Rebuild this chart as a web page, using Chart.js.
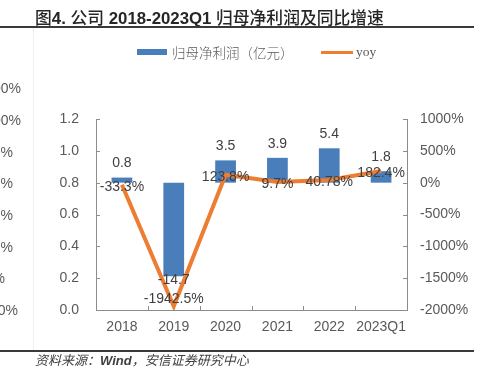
<!DOCTYPE html>
<html><head><meta charset="utf-8">
<script src="https://cdn.jsdelivr.net/npm/chart.js@4"></script>
<style>
html,body{margin:0;padding:0;background:#fff;}
#wrap{position:relative;width:486px;height:372px;overflow:hidden;background:#fff;}
#c{position:absolute;left:0;top:0;}
.t{position:absolute;white-space:nowrap;}
.edge{position:absolute;white-space:nowrap;font:14px "Liberation Sans",Arial,sans-serif;color:#595959;line-height:16px;text-align:right;}
.cj{font-weight:500;font-family:'Noto Sans CJK SC',sans-serif;}
</style></head><body>
<div id="wrap">
<canvas id="c" width="486" height="372"></canvas>
<div style="position:absolute;left:33px;top:28px;width:1px;height:323px;background:#efefef;"></div>
<div class="t" id="title" style="left:35px;top:7px;font:bold 16.8px 'Liberation Sans','Noto Sans CJK SC',sans-serif;color:#262626;line-height:20px;"><span class="cj">图</span>4. <span class="cj">公司</span> 2018-2023Q1 <span class="cj">归母净利润及同比增速</span></div>
<div style="position:absolute;left:0;top:26px;width:474px;height:2px;background:#3a3a3a;"></div>
<div id="legend"></div>
<div id="edges"></div>
<div style="position:absolute;left:0;top:350px;width:474px;height:1.5px;background:#3a3a3a;"></div>
<div class="t" style="left:35px;top:353px;font:italic 13px 'Liberation Sans','Noto Sans CJK SC',sans-serif;color:#404040;line-height:16px;">资料来源：<b>Wind</b>，安信证券研究中心</div>
</div>
<script>
// ---- data ----
const categories = ['2018', '2019', '2020', '2021', '2022', '2023Q1'];
const netProfit  = [0.8, -14.7, 3.5, 3.9, 5.4, 1.8];          // 归母净利润（亿元）
const yoyGrowth  = [-33.3, -1942.5, 123.8, 9.7, 40.78, 182.4]; // yoy, %
const leftTicks  = [0, 0.2, 0.4, 0.6, 0.8, 1.0, 1.2];
const rightTicks = [-2000, -1500, -1000, -500, 0, 500, 1000];
const edgeLabels = ['1500%', '1000%', '500%', '0%', '-500%', '-1000%', '-1500%', '-2000%']; // cropped axis at the left edge
const seriesNames = ['归母净利润（亿元）', 'yoy'];
const colors = {bar: '#4a7ebb', line: '#ED7D31'};

// legend (html)
(function(){
  const lg = document.getElementById('legend');
  lg.innerHTML =
    '<div style="position:absolute;left:137px;top:49px;width:30px;height:6px;background:'+colors.bar+'"></div>'+
    '<div class="t" style="left:172px;top:44px;font:300 13.5px \'Noto Sans CJK SC\',sans-serif;color:#595959;line-height:16px;">'+seriesNames[0]+'</div>'+
    '<div style="position:absolute;left:321px;top:51px;width:32px;height:3px;background:'+colors.line+'"></div>'+
    '<div class="t" style="left:356px;top:44px;font:13.5px \'Liberation Serif\',serif;color:#595959;line-height:16px;">'+seriesNames[1]+'</div>';
  const ed = document.getElementById('edges');
  const ends = [21, 21, 13, 13, 13, 13, 5, 18];
  const ys = [88, 120, 152, 183, 215, 247, 278, 310];
  let h = '';
  edgeLabels.forEach((s,i)=>{ h += '<div class="edge" style="right:'+(486-ends[i])+'px;top:'+(ys[i]-8)+'px;">'+s+'</div>'; });
  ed.innerHTML = h;
})();

const labelPlugin = {
  id: 'valueLabels',
  afterDatasetsDraw(chart){
    const ctx = chart.ctx, area = chart.chartArea;
    ctx.save();
    ctx.font = '14px "Liberation Sans", Arial, sans-serif';
    ctx.fillStyle = '#404040';
    ctx.textAlign = 'center';
    ctx.textBaseline = 'middle';
    chart.getDatasetMeta(1).data.forEach((el, i) => {
      const v = netProfit[i];
      const y = v >= 0 ? el.y - 14 : el.y + 4;
      ctx.fillText(v.toFixed(1), el.x, y);
    });
    chart.getDatasetMeta(0).data.forEach((el, i) => {
      const y = Math.min(el.y + 2, area.bottom - 11);
      ctx.fillText(yoyGrowth[i] + '%', el.x, y);
    });
    ctx.restore();
  }
};

const tickPlugin = {
  id: 'innerTicks',
  afterDraw(chart){
    const {ctx, chartArea: a, scales} = chart;
    ctx.save();
    ctx.strokeStyle = '#8c8c8c';
    ctx.lineWidth = 1;
    ctx.beginPath();
    scales.y.ticks.forEach(t => { const p = Math.round(scales.y.getPixelForValue(t.value)) + 0.5; ctx.moveTo(a.left, p); ctx.lineTo(a.left + 4, p); });
    scales.y1.ticks.forEach(t => { const p = Math.round(scales.y1.getPixelForValue(t.value)) + 0.5; ctx.moveTo(a.right - 4, p); ctx.lineTo(a.right, p); });
    for (let i = 1; i < categories.length; i++) {
      const x = Math.round((scales.x.getPixelForValue(i - 1) + scales.x.getPixelForValue(i)) / 2) + 0.5;
      ctx.moveTo(x, a.bottom); ctx.lineTo(x, a.bottom - 4);
    }
    ctx.stroke();
    ctx.restore();
  }
};

const tickFont = {family: '"Liberation Sans", Arial, sans-serif', size: 14};
const axisBorder = {display: true, color: '#8c8c8c', width: 1};

new Chart(document.getElementById('c'), {
  type: 'bar',
  data: {
    labels: categories,
    datasets: [
      {type: 'line', label: seriesNames[1], data: yoyGrowth, yAxisID: 'y1',
       borderColor: colors.line, backgroundColor: colors.line, borderWidth: 4,
       pointRadius: 0, tension: 0, fill: false, borderJoinStyle: 'miter'},
      {type: 'bar', label: seriesNames[0], data: netProfit, yAxisID: 'yb',
       backgroundColor: colors.bar, borderWidth: 0,
       barPercentage: 0.8, categoryPercentage: 0.5}
    ]
  },
  options: {
    responsive: false,
    animation: false,
    devicePixelRatio: 1,
    layout: {padding: {top: 119, bottom: 0, left: 0, right: 0}},
    plugins: {legend: {display: false}, tooltip: {enabled: false}, title: {display: false}},
    scales: {
      x: {
        grid: {display: false, drawTicks: false},
        border: axisBorder,
        ticks: {font: tickFont, color: '#595959', padding: 9, maxRotation: 0, autoSkip: false},
        afterFit(s){ s.height = 62; }
      },
      y: {
        position: 'left',
        min: leftTicks[0], max: leftTicks[leftTicks.length - 1],
        grid: {display: false, drawTicks: false},
        border: axisBorder,
        ticks: {font: tickFont, color: '#595959', padding: 17, stepSize: leftTicks[1] - leftTicks[0],
                callback: v => Number(v).toFixed(1)},
        afterFit(s){ s.width = 96; }
      },
      y1: {
        position: 'right',
        min: rightTicks[0], max: rightTicks[rightTicks.length - 1],
        grid: {display: false, drawTicks: false},
        border: axisBorder,
        ticks: {font: tickFont, color: '#595959', padding: 13, stepSize: rightTicks[1] - rightTicks[0],
                callback: v => v + '%'},
        afterFit(s){ s.width = 79; }
      },
      yb: {
        display: false,
        min: rightTicks[0] / 100, max: rightTicks[rightTicks.length - 1] / 100
      }
    }
  },
  plugins: [labelPlugin, tickPlugin]
});
</script>
</body></html>
